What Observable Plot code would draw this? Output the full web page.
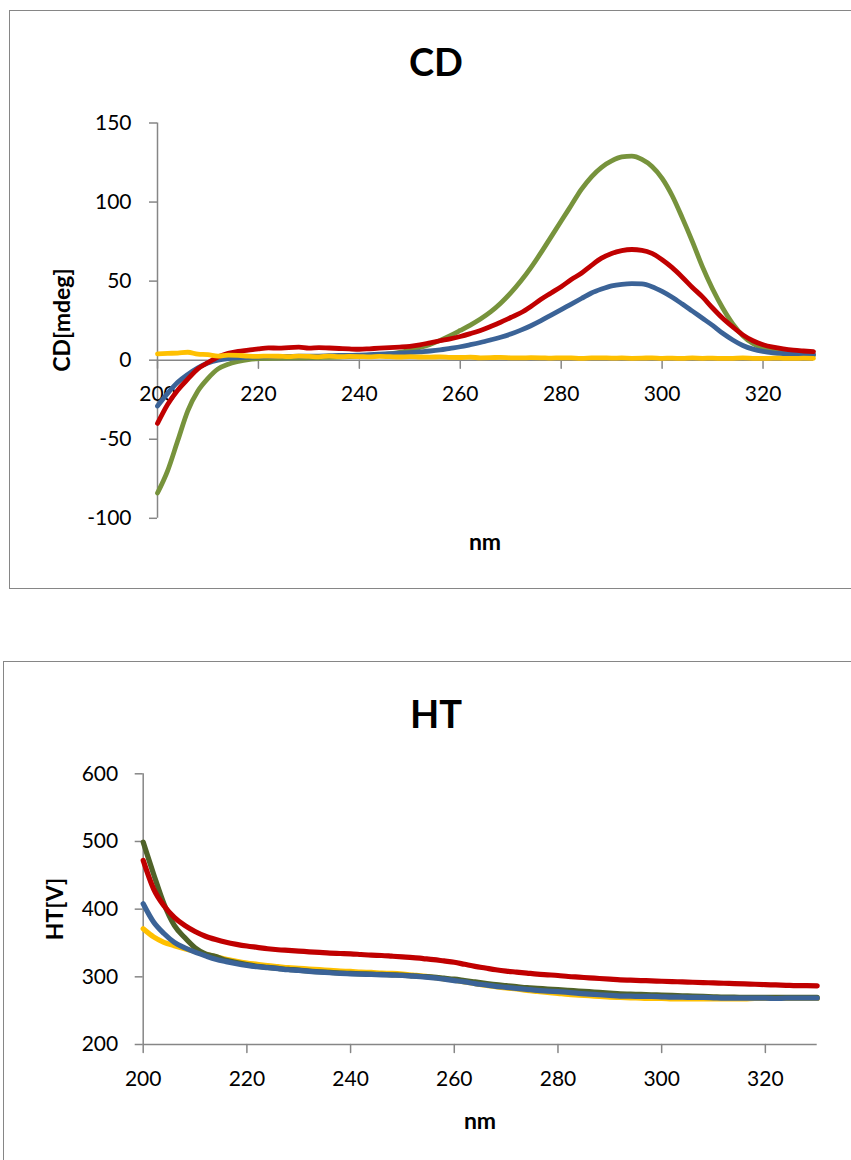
<!DOCTYPE html>
<html>
<head>
<meta charset="utf-8">
<script src="https://cdn.jsdelivr.net/npm/d3@7"></script>
<script src="https://cdn.jsdelivr.net/npm/@observablehq/plot@0.6"></script>
<style>
  html, body { margin: 0; padding: 0; background: #fff; }
  body { width: 851px; height: 1160px; position: relative; overflow: hidden; font-family: Lato, "Open Sans", sans-serif; }
  .frame { position: absolute; border: 1.5px solid #868686; box-sizing: border-box; }
  .chart { position: absolute; left: 0; }
  .lbl { position: absolute; transform: translate(-50%, -50%); white-space: nowrap; font-weight: bold; color: #000; line-height: 1; }
  .title { font-size: 38px; }
  .axis { font-size: 23px; }
  .rot { transform: translate(-50%, -50%) rotate(-90deg); }
</style>
</head>
<body>
<div class="frame" style="left:8.5px; top:10px; width:870px; height:579px"></div>
<div class="frame" style="left:2.5px; top:661px; width:880px; height:530px"></div>
<div id="cd" class="chart" style="top:0"></div>
<div id="ht" class="chart" style="top:640px"></div>
<div class="lbl title" style="left:436px; top:61px">CD</div>
<div class="lbl axis" style="left:485px; top:541px">nm</div>
<div class="lbl axis rot" style="left:61px; top:320px">CD[mdeg]</div>
<div class="lbl title" style="left:436px; top:713px">HT</div>
<div class="lbl axis" style="left:480px; top:1120px">nm</div>
<div class="lbl axis rot" style="left:54px; top:909px">HT[V]</div>
<script>
// Wavelength grid (nm)
const nm = [200,202,204,206,208,210,212,214,216,218,
            220,222,224,226,228,230,232,234,236,238,
            240,242,244,246,248,250,252,254,256,258,
            260,262,264,266,268,270,272,274,276,278,
            280,282,284,286,288,290,292,294,296,298,
            300,302,304,306,308,310,312,314,316,318,
            320,322,324,326,328,330];

// CD spectra (mdeg)
const cdGreen = [-84,-70,-51,-32,-19.5,-11.5,-5.5,-2.5,-0.8,0.4,
                 1.0,1.2,1.3,1.4,1.5,1.6,1.7,1.8,2.0,2.2,
                 2.5,2.8,3.2,4.0,5.0,6.3,8.0,10.0,12.5,15.5,
                 18.8,22.2,26,30.5,36,42.5,50,58.5,68,78,
                 88,98,108,116,122,126,128.5,129,127,122.5,
                 115,104,90,75,59,45,33,23,15.5,10.5,
                 7.5,5.8,4.8,4.2,3.7,3.4];
const cdRed = [-40,-28,-19,-12,-5.5,-1.5,2,4.3,5.5,6.3,
               7.2,7.8,7.6,8.0,8.2,7.6,8.0,7.7,7.4,7.1,
               6.9,7.2,7.6,7.9,8.3,8.8,9.7,11,12.3,13.5,
               15,16.8,18.8,21.3,24,27,30,34,38.5,42.5,
               46.5,51,55,60,64.5,67.5,69.3,70,69.5,67.5,
               63.5,58.5,52.5,46,40,33,26.5,21,16,12.3,
               9.8,8.2,7.1,6.3,5.8,5.4];
const cdBlue = [-29,-21,-14,-9,-4.8,-1.8,0,1,1.5,1.8,
                2,2.2,2.3,2.4,2.5,2.5,2.6,2.8,3,3,
                3.2,3.5,3.8,4.1,4.4,4.8,5.3,5.8,6.5,7.5,
                8.5,9.8,11.2,12.8,14.5,16.5,19,21.8,25,28.5,
                32,35.5,39,42.5,45,47,48,48.4,48.2,46.5,
                43.5,39.8,35.5,31,26.5,22,17,12.8,9.3,7,
                5.5,4.6,4.1,3.8,3.6,3.5];
const cdYellow = [4,4.3,4.5,5,3.8,3.5,2.6,3.2,3.0,2.6,
                  2.4,2.6,2.5,2.3,2.6,2.4,2.1,2.6,2.2,2.4,
                  2.3,2.1,2.4,2.2,2.0,2.3,2.0,1.9,2.1,1.8,
                  1.7,1.9,1.5,1.6,1.8,1.5,1.4,1.6,1.5,1.3,
                  1.5,1.4,1.2,1.4,1.5,1.3,1.4,1.2,1.3,1.5,
                  1.2,1.3,1.1,1.4,1.2,1.3,1.1,1.2,1.4,1.2,
                  1.1,1.3,1.2,1.1,1.3,1.2];

// HT voltage (V)
const htGreen = [499,452,408,376,358,343,334,330,324.5,321,
                 318,315.5,314,312.5,311,310,308.5,307.5,306.5,305.5,
                 305,304.5,304,303.5,303,302.5,301.5,300.5,299.5,298,
                 296.5,294.5,292.5,290.5,288.5,287,285.5,284,283,282,
                 281,280,279,278,277,276,275,274.5,274,273.5,
                 273,272.5,272,271.5,271,270.5,270,270,269.5,269.5,
                 269.5,269.5,269.5,269.5,269.5,269.5];
const htRed = [472,430,405,388,376,367,360,355,351,348,
               345.5,343.5,341.5,340,339,338,337,336,335,334.5,
               334,333,332,331.5,330.5,329.5,328.5,327,325.5,323.5,
               321.5,318.5,315.5,313,310.5,308.5,307,305.5,304,303,
               302,300.5,299.5,298.5,297.5,296.5,295.5,295,294.5,294,
               293.5,293,292.5,292,291.5,291,290.5,290,289.5,289,
               288.5,288,287.5,287,287,286.5];
const htBlue = [408,381,364,351,343,336.5,331,326,322.5,319.5,
                317,315,313.5,312,310.5,309.5,308,307,306,305,
                304.5,304,303.5,303,302.5,302,301,300,298.5,296.5,
                294.5,292.5,290,288,286,284.5,283,281.5,280,279,
                278,277,275.5,274.5,273.5,272.5,271.5,271.5,271,271,
                270.5,270,270,269.5,269.5,269,268.5,268.5,268.5,268.5,
                268.5,268,268.5,268.5,268.5,268.5];
const htYellow = [371,359,351,346,341.5,337.5,333.5,329.5,326,323,
                  320.5,318.5,316.5,315,313.5,312.5,311.5,310.5,309.5,308.5,
                  308,307,306.5,305.5,305,304,302.5,301,299,297,
                  295,292.5,290,287.5,285.5,283.5,282,280,278.5,277,
                  275.5,274,273,272,271,270,269.5,269,268.5,268,
                  268,267.5,267.5,267.5,267.5,267.5,267.5,267.5,267.5,268,
                  268,268,268,268,268,268];

// Tick values
const xTicks = [200,220,240,260,280,300,320];
const cdTicks = [-100,-50,0,50,100,150];
const htTicks = [200,300,400,500,600];

const axisGray = "#868686";
const font = "Lato, 'Open Sans', sans-serif";
const tickShape = {draw(context, l) { context.moveTo(0, 0); context.lineTo(0, -l); }};

const rows = (values) => nm.map((x, i) => ({x, y: values[i]}));
const trace = (values, color, width = 5) =>
  Plot.line(rows(values), {x: "x", y: "y", stroke: color, strokeWidth: width,
    strokeLinejoin: "round", strokeLinecap: "round", curve: "monotone-x"});

// CD panel: x axis crosses at y = 0
const cd = Plot.plot({
  width: 851, height: 600,
  marginLeft: 157, marginRight: 38, marginTop: 122.5, marginBottom: 82.2,
  x: {domain: [200, 330], axis: null},
  y: {domain: [-100, 150], axis: null},
  style: {fontFamily: font, fontSize: "21px", color: "#000", background: "transparent", overflow: "visible"},
  marks: [
    Plot.axisY(cdTicks, {tickSize: 8, tickPadding: 18, tickFormat: d => String(d),
      stroke: axisGray, strokeWidth: 1.5, fill: "#000", fontSize: 21, label: null}),
    Plot.ruleX([200], {y1: -100, y2: 150, stroke: axisGray, strokeWidth: 1.5}),
    Plot.ruleY([0], {x1: 200, x2: 330, stroke: axisGray, strokeWidth: 1.5}),
    Plot.vector(xTicks, {x: d => d, y: 0, length: 8, rotate: 180, anchor: "start",
      shape: tickShape, stroke: axisGray, strokeWidth: 1.5}),
    Plot.text(xTicks, {x: d => d, y: 0, dy: 34, text: d => String(d), fontSize: 21, fill: "#000"}),
    trace(cdGreen, "#77933C", 4.8),
    trace(cdBlue, "#3B6397", 4.8),
    trace(cdRed, "#C00000", 4.8),
    trace(cdYellow, "#FFC000", 4.8)
  ]
});
document.getElementById("cd").append(cd);

// HT panel
const ht = Plot.plot({
  width: 851, height: 520,
  marginLeft: 142.7, marginRight: 34.3, marginTop: 133.3, marginBottom: 116,
  x: {domain: [200, 330], axis: null},
  y: {domain: [200, 600], axis: null},
  style: {fontFamily: font, fontSize: "21px", color: "#000", background: "transparent", overflow: "visible"},
  marks: [
    Plot.axisY(htTicks, {tickSize: 8, tickPadding: 17, tickFormat: d => String(d),
      stroke: axisGray, strokeWidth: 1.5, fill: "#000", fontSize: 21, label: null}),
    Plot.ruleX([200], {y1: 200, y2: 600, stroke: axisGray, strokeWidth: 1.5}),
    Plot.ruleY([200], {x1: 200, x2: 330, stroke: axisGray, strokeWidth: 1.5}),
    Plot.vector(xTicks, {x: d => d, y: 200, length: 8, rotate: 180, anchor: "start",
      shape: tickShape, stroke: axisGray, strokeWidth: 1.5}),
    Plot.text(xTicks, {x: d => d, y: 200, dy: 35, text: d => String(d), fontSize: 21, fill: "#000"}),
    trace(htYellow, "#FFC000", 5.2),
    trace(htGreen, "#4F6228", 5.2),
    trace(htRed, "#C00000", 5.2),
    trace(htBlue, "#3B6397", 5.2)
  ]
});
document.getElementById("ht").append(ht);
</script>
</body>
</html>
